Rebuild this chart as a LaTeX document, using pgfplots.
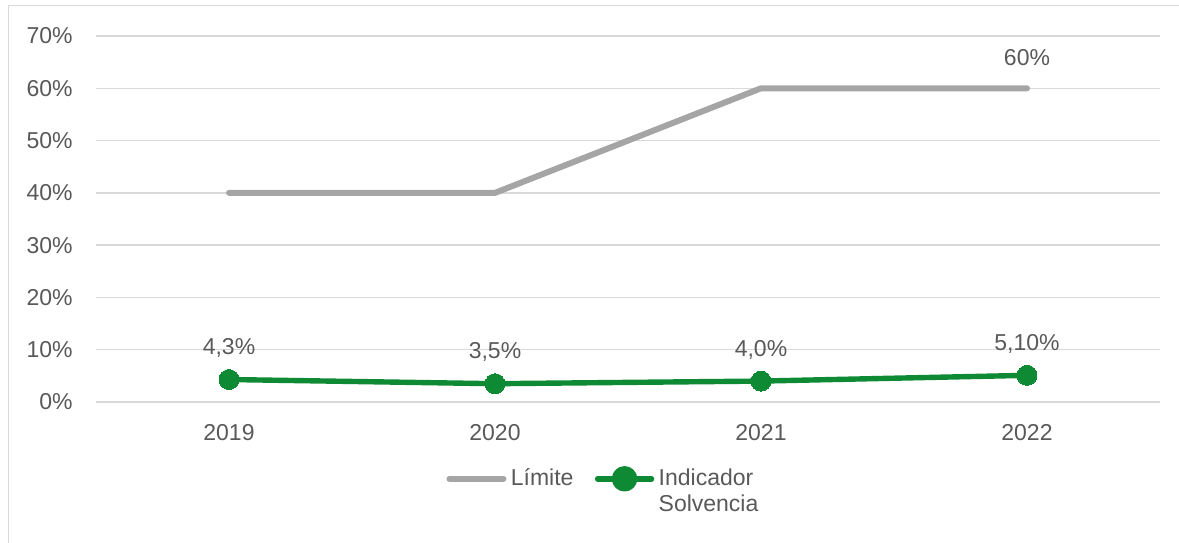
\documentclass[border=0pt]{standalone}
\usepackage{pgfplots}
\pgfplotsset{compat=1.18}
\usepackage{fontspec}
\setmainfont{Liberation Sans}
\definecolor{txt}{HTML}{595959}
\definecolor{gridc}{HTML}{D9D9D9}
\definecolor{limc}{HTML}{A5A5A5}
\definecolor{indc}{HTML}{0E8A34}
\pgfplotsset{
    limleg/.style={legend image code/.code={\draw[##1] (0pt,0pt) -- (27pt,0pt);}},
    indleg/.style={legend image code/.code={\draw[##1, mark=none] (0pt,0pt) -- (27pt,0pt);
        \fill[indc] (13.5pt,0pt) circle (5pt);}},
}
\begin{document}
\fontsize{11.5}{13}\selectfont
\begin{tikzpicture}[x=1pt,y=1pt]
\useasboundingbox (0,0) rectangle (589.5,271);
\draw[gridc, line width=0.8pt] (4.25,-20) -- (4.25,268.25) -- (620,268.25);
\begin{axis}[
    at={(48pt,70pt)}, anchor=south west,
    scale only axis, width=532pt, height=183pt,
    xmin=-0.5, xmax=3.5, ymin=0, ymax=70,
    xtick={0,1,2,3}, xticklabels={2019,2020,2021,2022},
    ytick={0,10,...,70},
    yticklabel={\pgfmathprintnumber{\tick}\%},
    /pgf/number format/assume math mode=true,
    ymajorgrids, grid style={gridc, line width=0.75pt},
    axis line style={draw=none}, major tick length=0pt,
    tick label style={text=txt},
    yticklabel style={inner sep=0pt, anchor=east, xshift=-11.5pt},
    xticklabel style={inner sep=0pt, anchor=north, yshift=-11pt},
    legend style={at={(0.329,-0.17)}, anchor=north west, draw=none, fill=none,
        inner sep=0pt, text=txt, nodes={inner xsep=2.2pt},
        /tikz/every even column/.append style={column sep=8.5pt}},
    legend columns=2, legend cell align=left,
    nodes near coords style={anchor=south, inner sep=0pt, yshift=11pt, text=txt},
    clip=false,
]
\addplot[limc, line width=3pt, line cap=round, line join=round, limleg]
    coordinates {(0,40) (1,40) (2,60) (3,60)};
\addlegendentry{Límite}
\addplot[indc, line width=2.7pt, line cap=round, line join=round,
    mark=*, mark size=5pt, mark options={fill=indc, draw=indc, line width=0pt},
    point meta=explicit symbolic, nodes near coords, indleg]
    coordinates {(0,4.3) [{4,3\%}] (1,3.5) [{3,5\%}] (2,4.0) [{4,0\%}] (3,5.1) [{5,10\%}]};
\addlegendentry{\parbox[t]{60pt}{Indicador\\Solvencia}}
\addplot[draw=none, forget plot, point meta=explicit symbolic, nodes near coords]
    coordinates {(3,60) [{60\%}]};
\end{axis}
\end{tikzpicture}
\end{document}
